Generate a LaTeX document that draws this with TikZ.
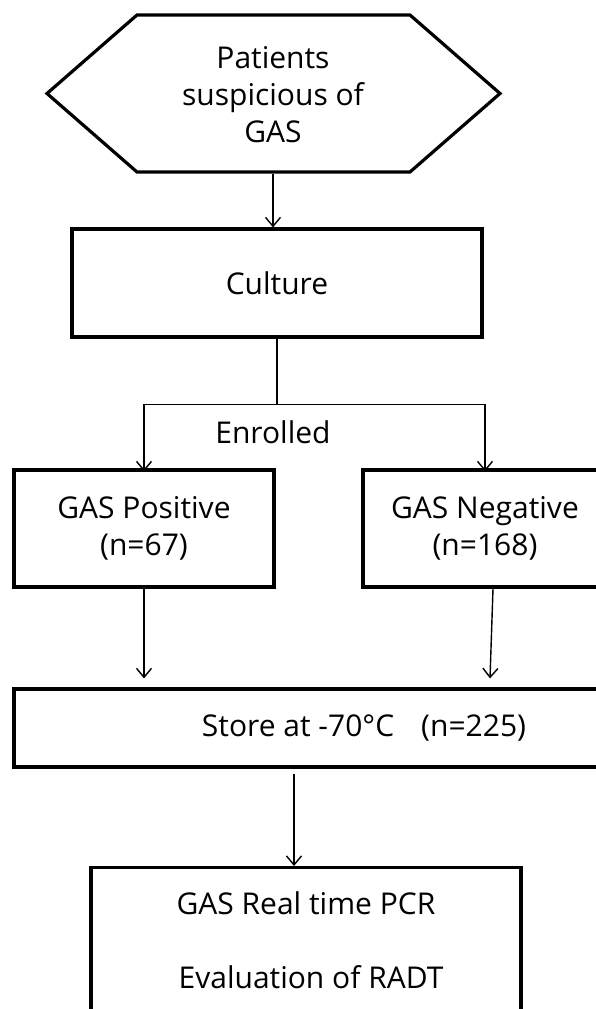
\documentclass[tikz,border=0pt]{standalone}
\usepackage{fontspec}
\setmainfont{Open Sans}
\usetikzlibrary{arrows.meta,calc}
\begin{document}
\begin{tikzpicture}[x=1pt,y=-1pt,
  box/.style={draw,line width=3.2pt,inner sep=0pt},
  lbl/.style={font=\fontsize{30}{37}\selectfont,align=center,inner sep=0pt},
  conn/.style={line width=1.4pt},
  arr/.style={conn,-{Straight Barb[length=9pt,width=15pt,line width=1.4pt]}}]
\useasboundingbox (0,0) rectangle (595,1009);
% hexagon
\draw[line width=3.2pt,line join=miter] (137,15) -- (410,15) -- (500,93.5) -- (410,172) -- (137,172) -- (47,93.5) -- cycle;
\node[lbl,minimum width=453pt,minimum height=157pt] (hex) at (273,95) {Patients\\suspicious of\\GAS};
% culture
\node[box,lbl,minimum width=410pt,minimum height=108pt] (culture) at (277,283) {Culture};
% positive / negative
\node[box,lbl,minimum width=260pt,minimum height=117pt] (pos) at (144,528.5) {GAS Positive\\(n=67)};
\node[box,lbl,minimum width=244pt,minimum height=117pt] (neg) at (485,528.5) {GAS Negative\\(n=168)};
\node[lbl] (enr) at (273,432) {Enrolled};
% store
\node[box,lbl,minimum width=700pt,minimum height=78pt] (store) at (364,728) {Store at -70°C\hspace{0.9em}(n=225)};
% final box
\node[box,minimum width=430pt,minimum height=190pt,anchor=north] (final) at (306,866) {};
\node[lbl] (pcr) at (306,903) {GAS Real time PCR};
\node[lbl] (radt) at (311,977) {Evaluation of RADT};
% connectors
\draw[arr] (hex.south) -- (hex.south |- culture.north);
\coordinate (split) at ($(culture.south)+(0,66)$);
\draw[conn] (culture.south) -- (split);
\draw[arr] (split) -| ([yshift=-3pt]pos.north);
\draw[arr] (split) -| ([yshift=-3pt]neg.north);
\draw[arr,shorten >=9pt] (pos.south) -- (pos.south |- store.north);
\coordinate (nA) at ($(neg.south)+(8,0)$);
\coordinate (nB) at ($(store.north -| neg.south)+(5,-9)$);
\draw[arr] (nA) -- (nB);
\coordinate (sA) at ($(store.south -| final.north)+(-12,5)$);
\draw[arr] (sA) -- (sA |- final.north);
\end{tikzpicture}
\end{document}
